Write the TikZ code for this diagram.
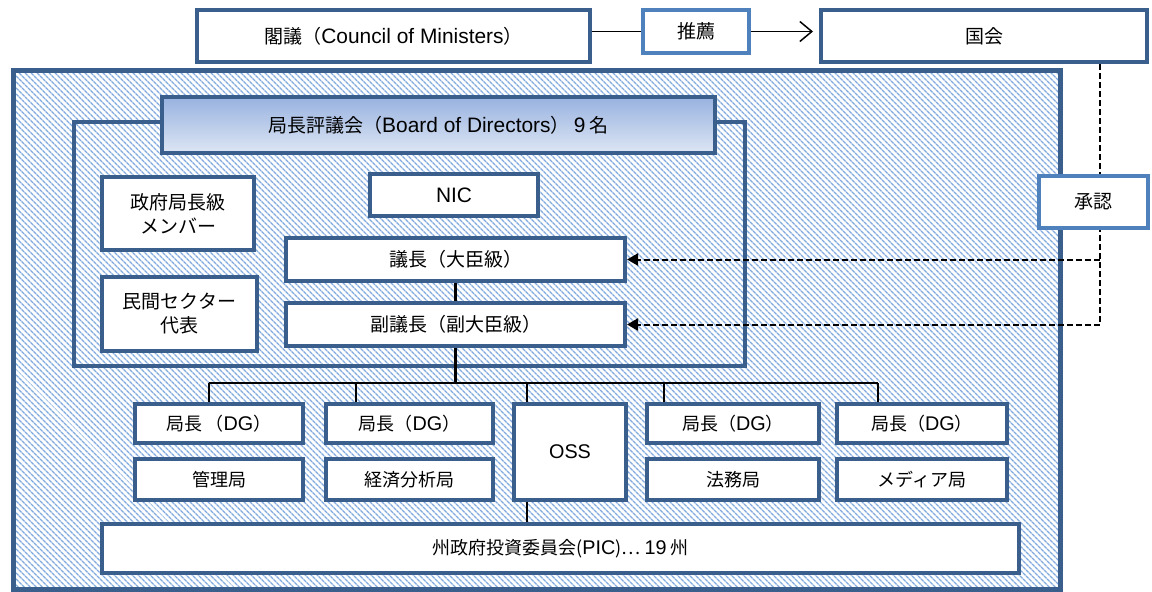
\documentclass[tikz,border=0pt]{standalone}
\usepackage{fontspec}
\setmainfont{Noto Sans CJK JP}
\newfontfamily\ar[Scale=1.1]{Liberation Sans}
\usetikzlibrary{patterns.meta,arrows.meta}
\definecolor{dblue}{RGB}{59,95,140}
\definecolor{lblue}{RGB}{79,129,189}
\definecolor{hatchc}{RGB}{130,170,222}
\definecolor{gtop}{RGB}{152,178,224}
\definecolor{gbot}{RGB}{221,230,244}
\newcommand\bx[7]{\node[#6, minimum width={#4-#2-4}, minimum height={#5-#3-4}] (#1) at ({(#2+#4)/2},{(#3+#5)/2}) {#7};}
\begin{document}
\begin{tikzpicture}[x=1pt,y=-1pt,
  box/.style={draw=dblue, line width=4pt, fill=white, inner sep=0pt, align=center, font=\fontsize{19}{24}\selectfont},
  lbox/.style={box, draw=lblue},
  sbox/.style={box, font=\fontsize{18}{22}\selectfont},
  hbox/.style={draw=dblue, line width=5pt, inner sep=0pt, pattern={Lines[angle=-45,distance=4pt,line width=1.4pt]}, pattern color=hatchc},
  frm/.style={draw=dblue, line width=4pt, inner sep=0pt},
  conn/.style={line width=2.2pt, black},
  tconn/.style={line width=1.5pt, black},
  dsh/.style={line width=2pt, black, dash pattern=on 6pt off 3pt, -{Triangle[length=11pt,width=12pt]}},
  dshn/.style={line width=2pt, black, dash pattern=on 6pt off 3pt}]
\fill[white] (0,0) rectangle (1152,592);
\useasboundingbox (0,0) rectangle (1152,592);
% top row
\bx{kaku}{195}{8}{592}{64}{box}{閣議（{\ar Council of Ministers}）}
\bx{suisen}{641}{8}{751}{55}{lbox}{推薦}
\bx{kokkai}{819}{8}{1149}{64}{box}{国会}
\draw[tconn] (suisen.west) -- (suisen.west -| kaku.east);
\draw[tconn, -{Straight Barb[length=12pt,width=20pt]}, shorten >=6pt] (suisen.east) -- (kokkai.west |- suisen.east);
% outer hatched area and frame
\bx{outer}{11}{68}{1062}{591}{hbox}{}
\bx{frame}{72}{120}{747}{368}{frm}{}
% connectors
\coordinate (busL) at (209,383);
\coordinate (d2) at (356,383);
\coordinate (d3) at (527,383);
\coordinate (d4) at (664,383);
\coordinate (busR) at (878,383);
\bx{chair}{284}{236}{627}{283}{box}{議長（大臣級）}
\bx{vchair}{284}{301}{627}{348}{box}{副議長（副大臣級）}
\draw[conn] (chair.south) -- (vchair.north);
\draw[conn] (vchair.south) -- (vchair.south |- busL);
\draw[conn] (busL) -- (busR);
% boxes
\bx{board}{160}{95}{717}{155}{box, top color=gtop, bottom color=gbot}{局長評議会（{\ar Board of Directors}）\ {\ar 9} 名}
\bx{nic}{368}{172}{540}{218}{box}{\ar NIC}
\bx{gov}{100}{175}{256}{252}{box}{政府局長級\\メンバー}
\bx{priv}{100}{275}{259}{353}{box}{民間セクター\\代表}
\bx{dg1}{133}{402}{305}{445}{sbox}{局長\,（{\ar DG}）}
\bx{dg2}{324}{402}{495}{445}{sbox}{局長（{\ar DG}）}
\bx{oss}{512}{402}{628}{502}{sbox}{\ar OSS}
\bx{dg4}{645}{402}{821}{445}{sbox}{局長（{\ar DG}）}
\bx{dg5}{835}{402}{1009}{445}{sbox}{局長（{\ar DG}）}
\bx{b1}{133}{457}{305}{502}{sbox}{管理局}
\bx{b2}{324}{457}{495}{502}{sbox}{経済分析局}
\bx{b4}{645}{457}{821}{502}{sbox}{法務局}
\bx{b5}{835}{457}{1009}{502}{sbox}{メディア局}
\bx{pic}{100}{522}{1021}{575}{sbox}{州政府投資委員会({\ar PIC})… {\ar 19} 州}
\draw[conn] (busL) -- (busL |- dg1.north);
\draw[conn] (d2) -- (d2 |- dg2.north);
\draw[conn] (d3) -- (d3 |- oss.north);
\draw[conn] (d4) -- (d4 |- dg4.north);
\draw[conn] (busR) -- (busR |- dg5.north);
\draw[conn] (oss.south -| d3) -- (pic.north -| d3);
% approval dashed lines
\coordinate (dx) at (1100,0);
\draw[dsh] (kokkai.south -| dx) |- (vchair.east);
\draw[dsh] (chair.east -| dx) -- (chair.east);
\bx{appr}{1037}{174}{1150}{230}{lbox}{承認}
\end{tikzpicture}
\end{document}
